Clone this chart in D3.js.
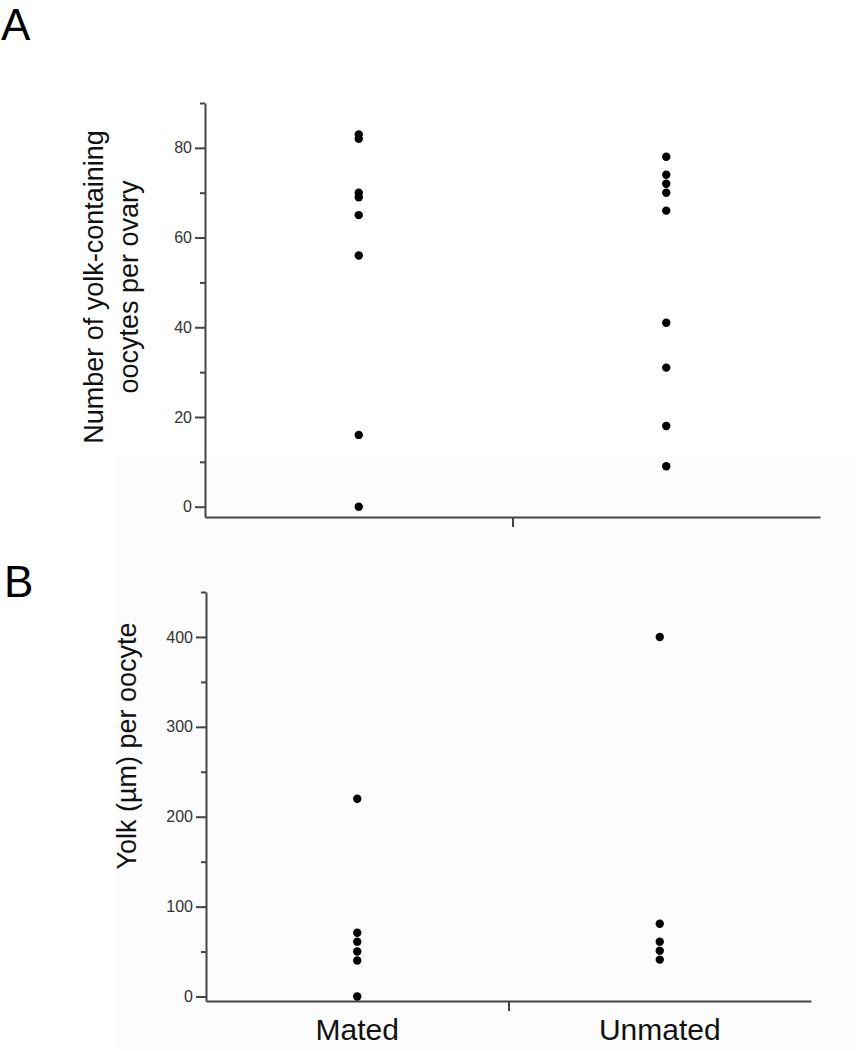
<!DOCTYPE html>
<html>
<head>
<meta charset="utf-8">
<script src="https://cdn.jsdelivr.net/npm/d3@7"></script>
<style>
  body { margin: 0; background: #fff; }
  svg { display: block; }
  .axis path, .axis line { stroke: #444; stroke-width: 2; }
  .axis text { font-family: "Liberation Sans", Arial, sans-serif; font-size: 16px; fill: #333; }
  .title { font-family: "Liberation Sans", Arial, sans-serif; font-size: 27px; fill: #111; }
  .cat { font-family: "Liberation Sans Narrow", "Liberation Sans", sans-serif; font-size: 30px; fill: #111; }
  .panel { font-family: "Liberation Sans", Arial, sans-serif; font-size: 44px; fill: #000; }
</style>
</head>
<body>
<svg width="856" height="1050"></svg>
<script>
// data
var categories = ["Mated", "Unmated"];
var matedOocytes = [83, 82, 70, 69, 65, 56, 16, 0];
var unmatedOocytes = [78, 74, 72, 70, 66, 41, 31, 18, 9];
var matedYolk = [220, 71, 61, 50, 40, 0];
var unmatedYolk = [400, 81, 61, 51, 41];
var oocyteTicks = [0, 20, 40, 60, 80];
var oocyteMinor = [10, 30, 50, 70, 90];
var yolkTicks = [0, 100, 200, 300, 400];
var yolkMinor = [50, 150, 250, 350, 450];

var svg = d3.select("svg");

// very faint grey backdrop of the lower (pasted) part of the figure
svg.append("rect").attr("x", 115).attr("y", 455).attr("width", 741).attr("height", 595).attr("fill", "#fcfcfc");

function panel(opts) {
	var x = d3.scalePoint().domain(categories).range([opts.left, opts.right]).padding(0.5);
	var y = d3.scaleLinear().domain(opts.domain).range([opts.bottom, opts.top]);
	var g = svg.append("g");

	// minor ticks
	g.append("g").attr("class", "axis").attr("transform", "translate(" + opts.left + ",0)")
		.call(d3.axisLeft(y).tickValues(opts.minor).tickSize(5).tickSizeOuter(0).tickFormat(""))
		.select(".domain").remove();
	// major ticks + axis line
	g.append("g").attr("class", "axis").attr("transform", "translate(" + opts.left + ",0)")
		.call(d3.axisLeft(y).tickValues(opts.ticks).tickSize(10).tickSizeOuter(0).tickPadding(3));

	// x axis with a single tick between the groups
	var xm = d3.scaleLinear().domain([0, 1]).range([opts.left, opts.right]);
	g.append("g").attr("class", "axis").attr("transform", "translate(0," + opts.bottom + ")")
		.call(d3.axisBottom(xm).tickValues([0.5]).tickSize(10).tickSizeOuter(0).tickFormat(""));

	var pts = [];
	opts.series.forEach(function(s, i) {
		s.forEach(function(v) { pts.push({ cat: categories[i], v: v }); });
	});
	g.selectAll(".dot").data(pts).enter().append("circle").attr("class", "dot")
		.attr("cx", function(d) { return x(d.cat); })
		.attr("cy", function(d) { return y(d.v); })
		.attr("r", 4.2).attr("fill", "#000");

	return { x: x, y: y, g: g };
}

var a = panel({ left: 205, right: 820, top: 103, bottom: 517, domain: [-2.3, 90],
	ticks: oocyteTicks, minor: oocyteMinor, series: [matedOocytes, unmatedOocytes] });

var b = panel({ left: 206, right: 811, top: 592, bottom: 1001, domain: [-5, 450],
	ticks: yolkTicks, minor: yolkMinor, series: [matedYolk, unmatedYolk] });

// axis titles
a.g.append("text").attr("class", "title").attr("text-anchor", "middle")
	.attr("transform", "translate(103,287) rotate(-90)")
	.selectAll("tspan").data(["Number of yolk-containing", "oocytes per ovary"]).enter()
	.append("tspan").attr("x", 0).attr("dy", function(d, i) { return i ? 35 : 0; }).text(function(d) { return d; });

b.g.append("text").attr("class", "title").attr("text-anchor", "middle")
	.attr("transform", "translate(136,746) rotate(-90)")
	.text("Yolk (\u00b5m) per oocyte");

// category labels under panel B
b.g.selectAll(".cat").data(categories).enter().append("text").attr("class", "cat")
	.attr("text-anchor", "middle")
	.attr("x", function(d) { return b.x(d); })
	.attr("y", 1040)
	.text(function(d) { return d; });

// panel letters
svg.append("text").attr("class", "panel").attr("x", 1).attr("y", 40).text("A");
svg.append("text").attr("class", "panel").attr("x", 4).attr("y", 597).text("B");
</script>
</body>
</html>
